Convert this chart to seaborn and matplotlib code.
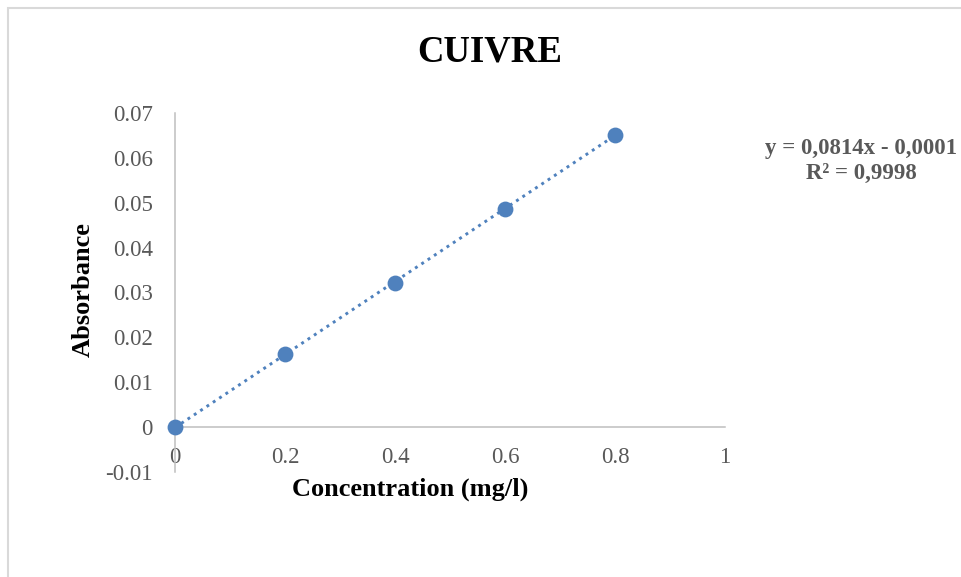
import numpy as np
import pandas as pd
import seaborn as sns
import matplotlib.pyplot as plt
from matplotlib.patches import Rectangle

# ==============================
#  DATA
# ==============================
concentration = [0, 0.2, 0.4, 0.6, 0.8]
absorbance = [0.0, 0.0162, 0.0322, 0.0487, 0.0651]
x_ticks = [0, 0.2, 0.4, 0.6, 0.8, 1]
x_tick_labels = ["0", "0.2", "0.4", "0.6", "0.8", "1"]
y_ticks = [-0.01, 0, 0.01, 0.02, 0.03, 0.04, 0.05, 0.06, 0.07]
y_tick_labels = ["-0.01", "0", "0.01", "0.02", "0.03", "0.04", "0.05", "0.06", "0.07"]
equation_text = "y = 0,0814x - 0,0001\nR² = 0,9998"

df = pd.DataFrame({"conc": concentration, "abs": absorbance})

# ==============================
#  STYLE
# ==============================
sns.set_style("white")
plt.rcParams["font.family"] = ["Liberation Serif", "DejaVu Serif"]
blue = "#4F81BD"
axis_grey = "#bfbfbf"
text_grey = "#595959"

fig = plt.figure(figsize=(9.61, 5.77), dpi=100)
ax = fig.add_axes([0.1821, 0.182, 0.5723, 0.6222])

# chart border (cropped on right / bottom)
fig.patches.append(Rectangle((8 / 961, -0.2), 1.2, 1 - 8 / 577 + 0.2,
                             transform=fig.transFigure, fill=False,
                             edgecolor="#d9d9d9", lw=1.5, clip_on=False))

# ==============================
#  PLOT
# ==============================
sns.regplot(data=df, x="conc", y="abs", ax=ax, ci=None, scatter=False,
            line_kws=dict(color=blue, lw=2.1, linestyle=(0, (1, 1.6))))
sns.scatterplot(data=df, x="conc", y="abs", ax=ax, color=blue, s=130,
                edgecolor=blue, linewidth=0, zorder=5, clip_on=False)

ax.set_xlim(0, 1)
ax.set_ylim(-0.01, 0.07)
ax.set_xticks(x_ticks)
ax.set_xticklabels(x_tick_labels)
ax.set_yticks(y_ticks)
ax.set_yticklabels(y_tick_labels)
ax.tick_params(axis="both", length=0, labelsize=16.5, labelcolor=text_grey)
ax.tick_params(axis="x", pad=14)
ax.tick_params(axis="y", pad=16)

for side in ["top", "right"]:
    ax.spines[side].set_visible(False)
ax.spines["bottom"].set_position(("data", 0))
for side in ["left", "bottom"]:
    ax.spines[side].set_color(axis_grey)
    ax.spines[side].set_linewidth(1.1)

ax.set_xlabel("Concentration (mg/l)", fontsize=19, fontweight="bold", color="black")
ax.xaxis.set_label_coords(0.427, -0.047)
ax.xaxis.label.set_va("center")
ax.set_ylabel("Absorbance", fontsize=19, fontweight="bold", color="black")
ax.yaxis.set_label_coords(-0.167, 0.507)
ax.yaxis.label.set_va("center")

fig.suptitle("CUIVRE", x=490 / 961, y=1 - 52 / 577, va="center",
             fontsize=26.5, fontweight="bold", color="black")

fig.text(861 / 961, 1 - 161 / 577, equation_text, ha="center", va="center",
         fontsize=16.5, fontweight="bold", color=text_grey, linespacing=1.2)

fig.savefig("out.png", dpi=100, facecolor="white")
